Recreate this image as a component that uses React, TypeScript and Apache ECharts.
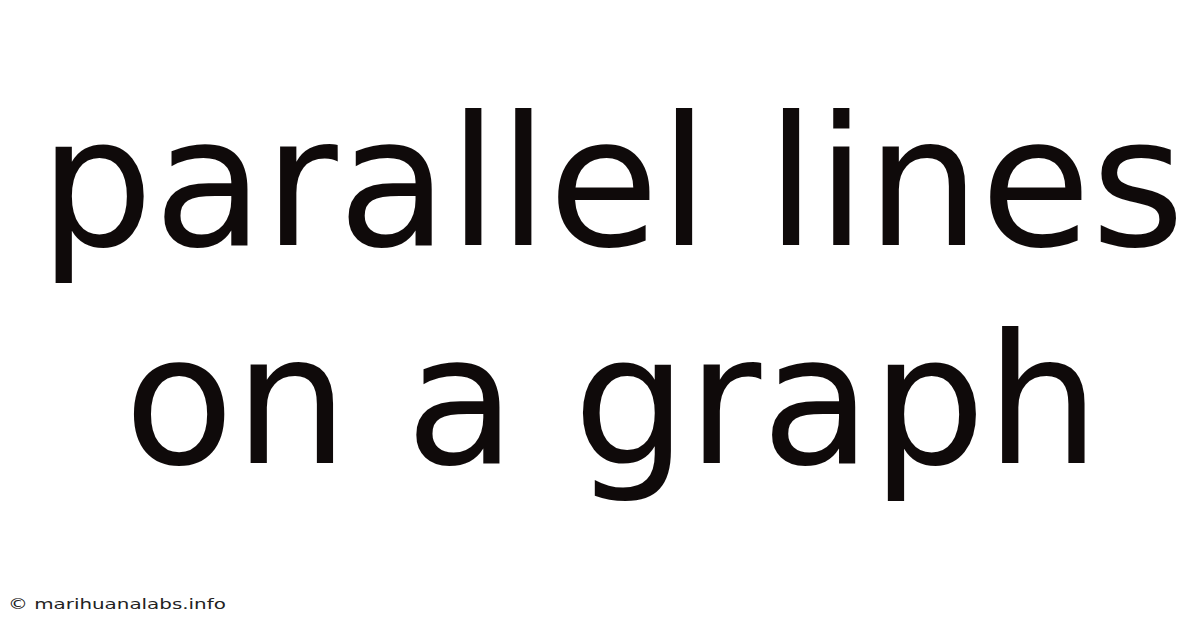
import { useEffect, useRef } from "react";
import * as echarts from "echarts";

// Texts of the card
const TITLE_LINES = ["parallel lines", "on a graph"];
const TITLE_BOTTOMS = [272, 490];
const CREDIT = "© marihuanalabs.info";

const INK = "#0f0a0a";

export default function App() {
  const ref = useRef<HTMLDivElement>(null);

  useEffect(() => {
    if (!ref.current) return;
    const chart = echarts.init(ref.current, undefined, { renderer: "svg" });
    chart.setOption({
      animation: false,
      backgroundColor: "#ffffff",
      graphic: [
        ...TITLE_LINES.map((line, i) => ({
          type: "text",
          x: 612,
          y: TITLE_BOTTOMS[i],
          style: {
            text: line,
            font: "180px 'DejaVu Sans'",
            fill: INK,
            align: "center",
            verticalAlign: "bottom",
          },
        })),
        {
          type: "text",
          x: 8,
          y: 604,
          scaleX: 1.42,
          style: {
            text: CREDIT,
            font: "14px 'DejaVu Sans'",
            fill: "#222222",
            align: "left",
            verticalAlign: "middle",
          },
        },
      ],
    });
    const onResize = () => chart.resize();
    window.addEventListener("resize", onResize);
    return () => { window.removeEventListener("resize", onResize); chart.dispose(); };
  }, []);

  return <div ref={ref} style={{ position: "fixed", left: 0, top: 0, width: 1200, height: 628 }} />;
}
